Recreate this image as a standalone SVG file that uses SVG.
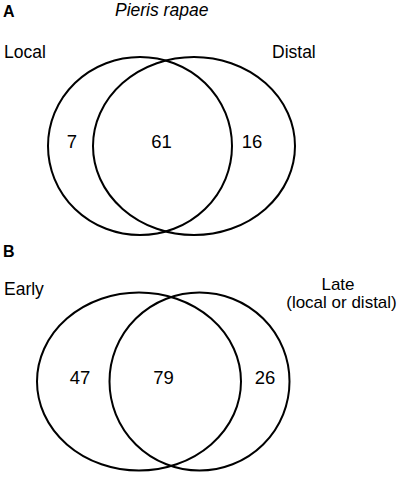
<svg xmlns="http://www.w3.org/2000/svg" width="404" height="478" viewBox="0 0 404 478">
<style>
text{font-family:"Liberation Sans",Arial,sans-serif;font-size:17.5px;fill:#000}
.lbl{font-weight:bold;font-size:16px}
.it{font-style:italic}
.num{font-size:18.5px}
.sm{font-size:17px}
ellipse{fill:none;stroke:#000;stroke-width:2}
</style>
<rect width="404" height="478" fill="#fff"/>
<g id="panelA">
<text class="lbl" x="3" y="17">A</text>
<text class="it" x="115" y="16">Pieris rapae</text>
<g id="local"><ellipse cx="140" cy="146" rx="92" ry="89"/><text x="4" y="58">Local</text></g>
<g id="distal"><ellipse cx="194" cy="146" rx="101" ry="89"/><text x="272" y="58">Distal</text></g>
<text class="num" x="72" y="148" text-anchor="middle">7</text>
<text class="num" x="161.5" y="148" text-anchor="middle">61</text>
<text class="num" x="252" y="148" text-anchor="middle">16</text>
</g>
<g id="panelB">
<text class="lbl" x="3" y="257">B</text>
<g id="early"><ellipse cx="139" cy="381.5" rx="102" ry="89"/><text x="4" y="295">Early</text></g>
<g id="late"><ellipse cx="199.5" cy="381.5" rx="90" ry="89"/><text class="sm" x="338" y="290" text-anchor="middle">Late</text><text class="sm" x="341.5" y="307.5" text-anchor="middle">(local or distal)</text></g>
<text class="num" x="80" y="384" text-anchor="middle">47</text>
<text class="num" x="163.5" y="384" text-anchor="middle">79</text>
<text class="num" x="265" y="384" text-anchor="middle">26</text>
</g>
</svg>
